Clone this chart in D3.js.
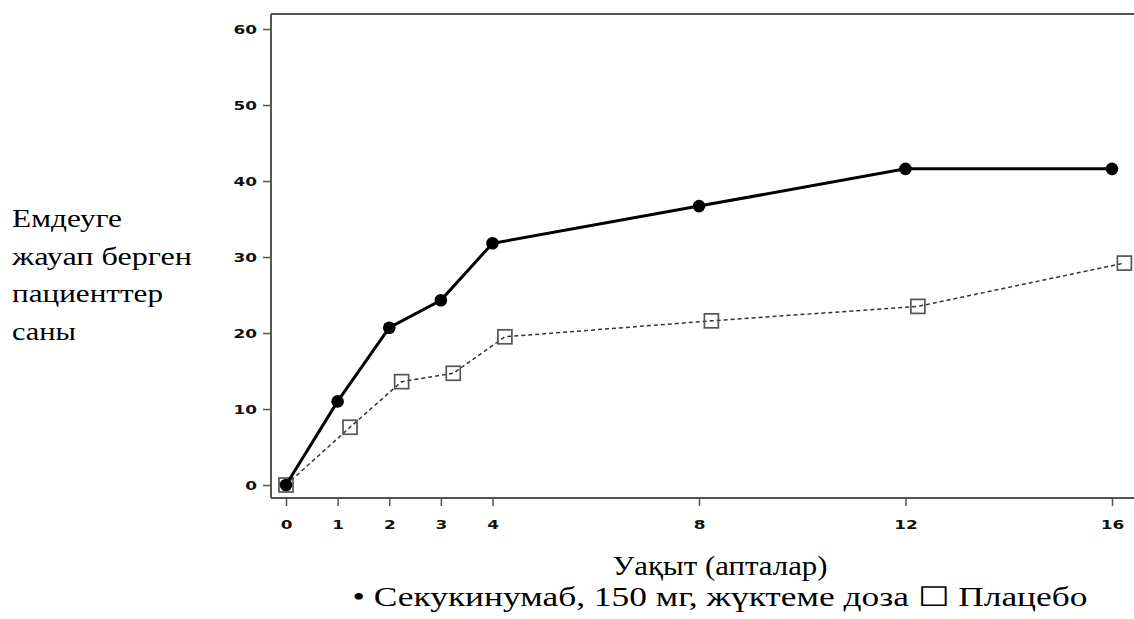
<!DOCTYPE html>
<html>
<head>
<meta charset="utf-8">
<script src="https://cdn.jsdelivr.net/npm/d3@7"></script>
<style>
  html, body { margin: 0; padding: 0; background: #fff; }
  svg { display: block; }
</style>
</head>
<body>
<div id="canvas"></div>
<script>
// weeks and responders (secukinumab vs placebo)
const weeks = [0, 1, 2, 3, 4, 8, 12, 16];
const placeboWeeks = [0, 1.24, 2.24, 3.24, 4.24, 8.24, 12.24, 16.24];
const secukinumab = [0, 11.0, 20.7, 24.3, 31.8, 36.7, 41.6, 41.6];
const placebo = [0, 7.6, 13.6, 14.7, 19.5, 21.6, 23.5, 29.2];
const xTicks = [0, 1, 2, 3, 4, 8, 12, 16];
const yTicks = [0, 10, 20, 30, 40, 50, 60];
const yLabelLines = ['Емдеуге', 'жауап берген', 'пациенттер', 'саны'];
const xLabel = 'Уақыт (апталар)';
const legendText = '• Секукинумаб, 150 мг, жүктеме доза ☐ Плацебо';

(function() {
    const width = 1134, height = 619;
    const svg = d3.select('#canvas').append('svg')
        .attr('width', width).attr('height', height);

    // plot box: left axis at 271, bottom axis at 498, top border at 14 (no right border)
    const left = 271, right = 1134, top = 14, bottom = 498;

    const x = d3.scaleLinear().domain([0, 16]).range([286, 1112]);
    const y = d3.scaleLinear().domain([0, 60]).range([485, 29]);

    const axisColor = '#555';
    const tickFont = 'bold 13px "DejaVu Sans", sans-serif';

    // the source figure is a bit wider than its fonts: stretch text horizontally
    function stretch(sel, factor) {
        sel.each(function() {
            const w = this.getComputedTextLength();
            this.setAttribute('textLength', w * factor);
            this.setAttribute('lengthAdjust', 'spacingAndGlyphs');
        });
    }
    function fitTo(sel, w) {
        sel.attr('textLength', w).attr('lengthAdjust', 'spacingAndGlyphs');
    }

    svg.append('line')
        .attr('x1', left).attr('x2', right).attr('y1', top).attr('y2', top)
        .attr('stroke', axisColor).attr('stroke-width', 2);

    const yAxis = d3.axisLeft(y).tickValues(yTicks).tickSize(8).tickPadding(6);
    const gy = svg.append('g').attr('transform', `translate(${left},0)`).call(yAxis);
    gy.select('.domain').attr('d', `M0,${top}V${bottom}`);

    const xAxis = d3.axisBottom(x).tickValues(xTicks).tickSize(8).tickPadding(14);
    const gx = svg.append('g').attr('transform', `translate(0,${bottom})`).call(xAxis);
    gx.select('.domain').attr('d', `M${left},0H${right}`);

    svg.selectAll('.domain').attr('stroke', axisColor).attr('stroke-width', 2);
    svg.selectAll('.tick line').attr('stroke', axisColor).attr('stroke-width', 1.5);
    svg.selectAll('.tick text').style('font', tickFont).attr('fill', '#111');
    stretch(svg.selectAll('.tick text'), 1.3);

    // placebo: dashed line + open squares
    const placeboPts = placeboWeeks.map((w, i) => [w, placebo[i]]);
    svg.append('path')
        .datum(placeboPts)
        .attr('fill', 'none')
        .attr('stroke', '#333')
        .attr('stroke-width', 1.5)
        .attr('stroke-dasharray', '4,3')
        .attr('d', d3.line().x(d => x(d[0])).y(d => y(d[1])));
    svg.selectAll('rect.pl')
        .data(placeboPts)
        .join('rect')
        .attr('class', 'pl')
        .attr('x', d => x(d[0]) - 7)
        .attr('y', d => y(d[1]) - 7)
        .attr('width', 14).attr('height', 14)
        .attr('fill', 'none')
        .attr('stroke', '#555')
        .attr('stroke-width', 1.7);

    // secukinumab: thick solid line + filled circles
    const activePts = weeks.map((w, i) => [w, secukinumab[i]]);
    svg.append('path')
        .datum(activePts)
        .attr('fill', 'none')
        .attr('stroke', '#000')
        .attr('stroke-width', 3)
        .attr('d', d3.line().x(d => x(d[0])).y(d => y(d[1])));
    svg.selectAll('circle.ac')
        .data(activePts)
        .join('circle')
        .attr('class', 'ac')
        .attr('cx', d => x(d[0]))
        .attr('cy', d => y(d[1]))
        .attr('r', 6.3)
        .attr('fill', '#000');

    // texts
    const serif = '"Liberation Serif", "Times New Roman", serif';
    const yLabelWidths = [110, 180, 151, 64];
    yLabelLines.forEach((s, i) => {
        svg.append('text')
            .attr('x', 12).attr('y', 227 + i * 37.5)
            .style('font-family', serif).style('font-size', '26px')
            .text(s)
            .call(fitTo, yLabelWidths[i]);
    });

    svg.append('text')
        .attr('x', 720).attr('y', 575)
        .attr('text-anchor', 'middle')
        .style('font-family', serif).style('font-size', '27px')
        .text(xLabel)
        .call(fitTo, 215);

    svg.append('text')
        .attr('x', 720).attr('y', 606)
        .attr('text-anchor', 'middle')
        .style('font-family', serif).style('font-size', '27px')
        .text(legendText)
        .call(fitTo, 735);
})();
</script>
</body>
</html>
